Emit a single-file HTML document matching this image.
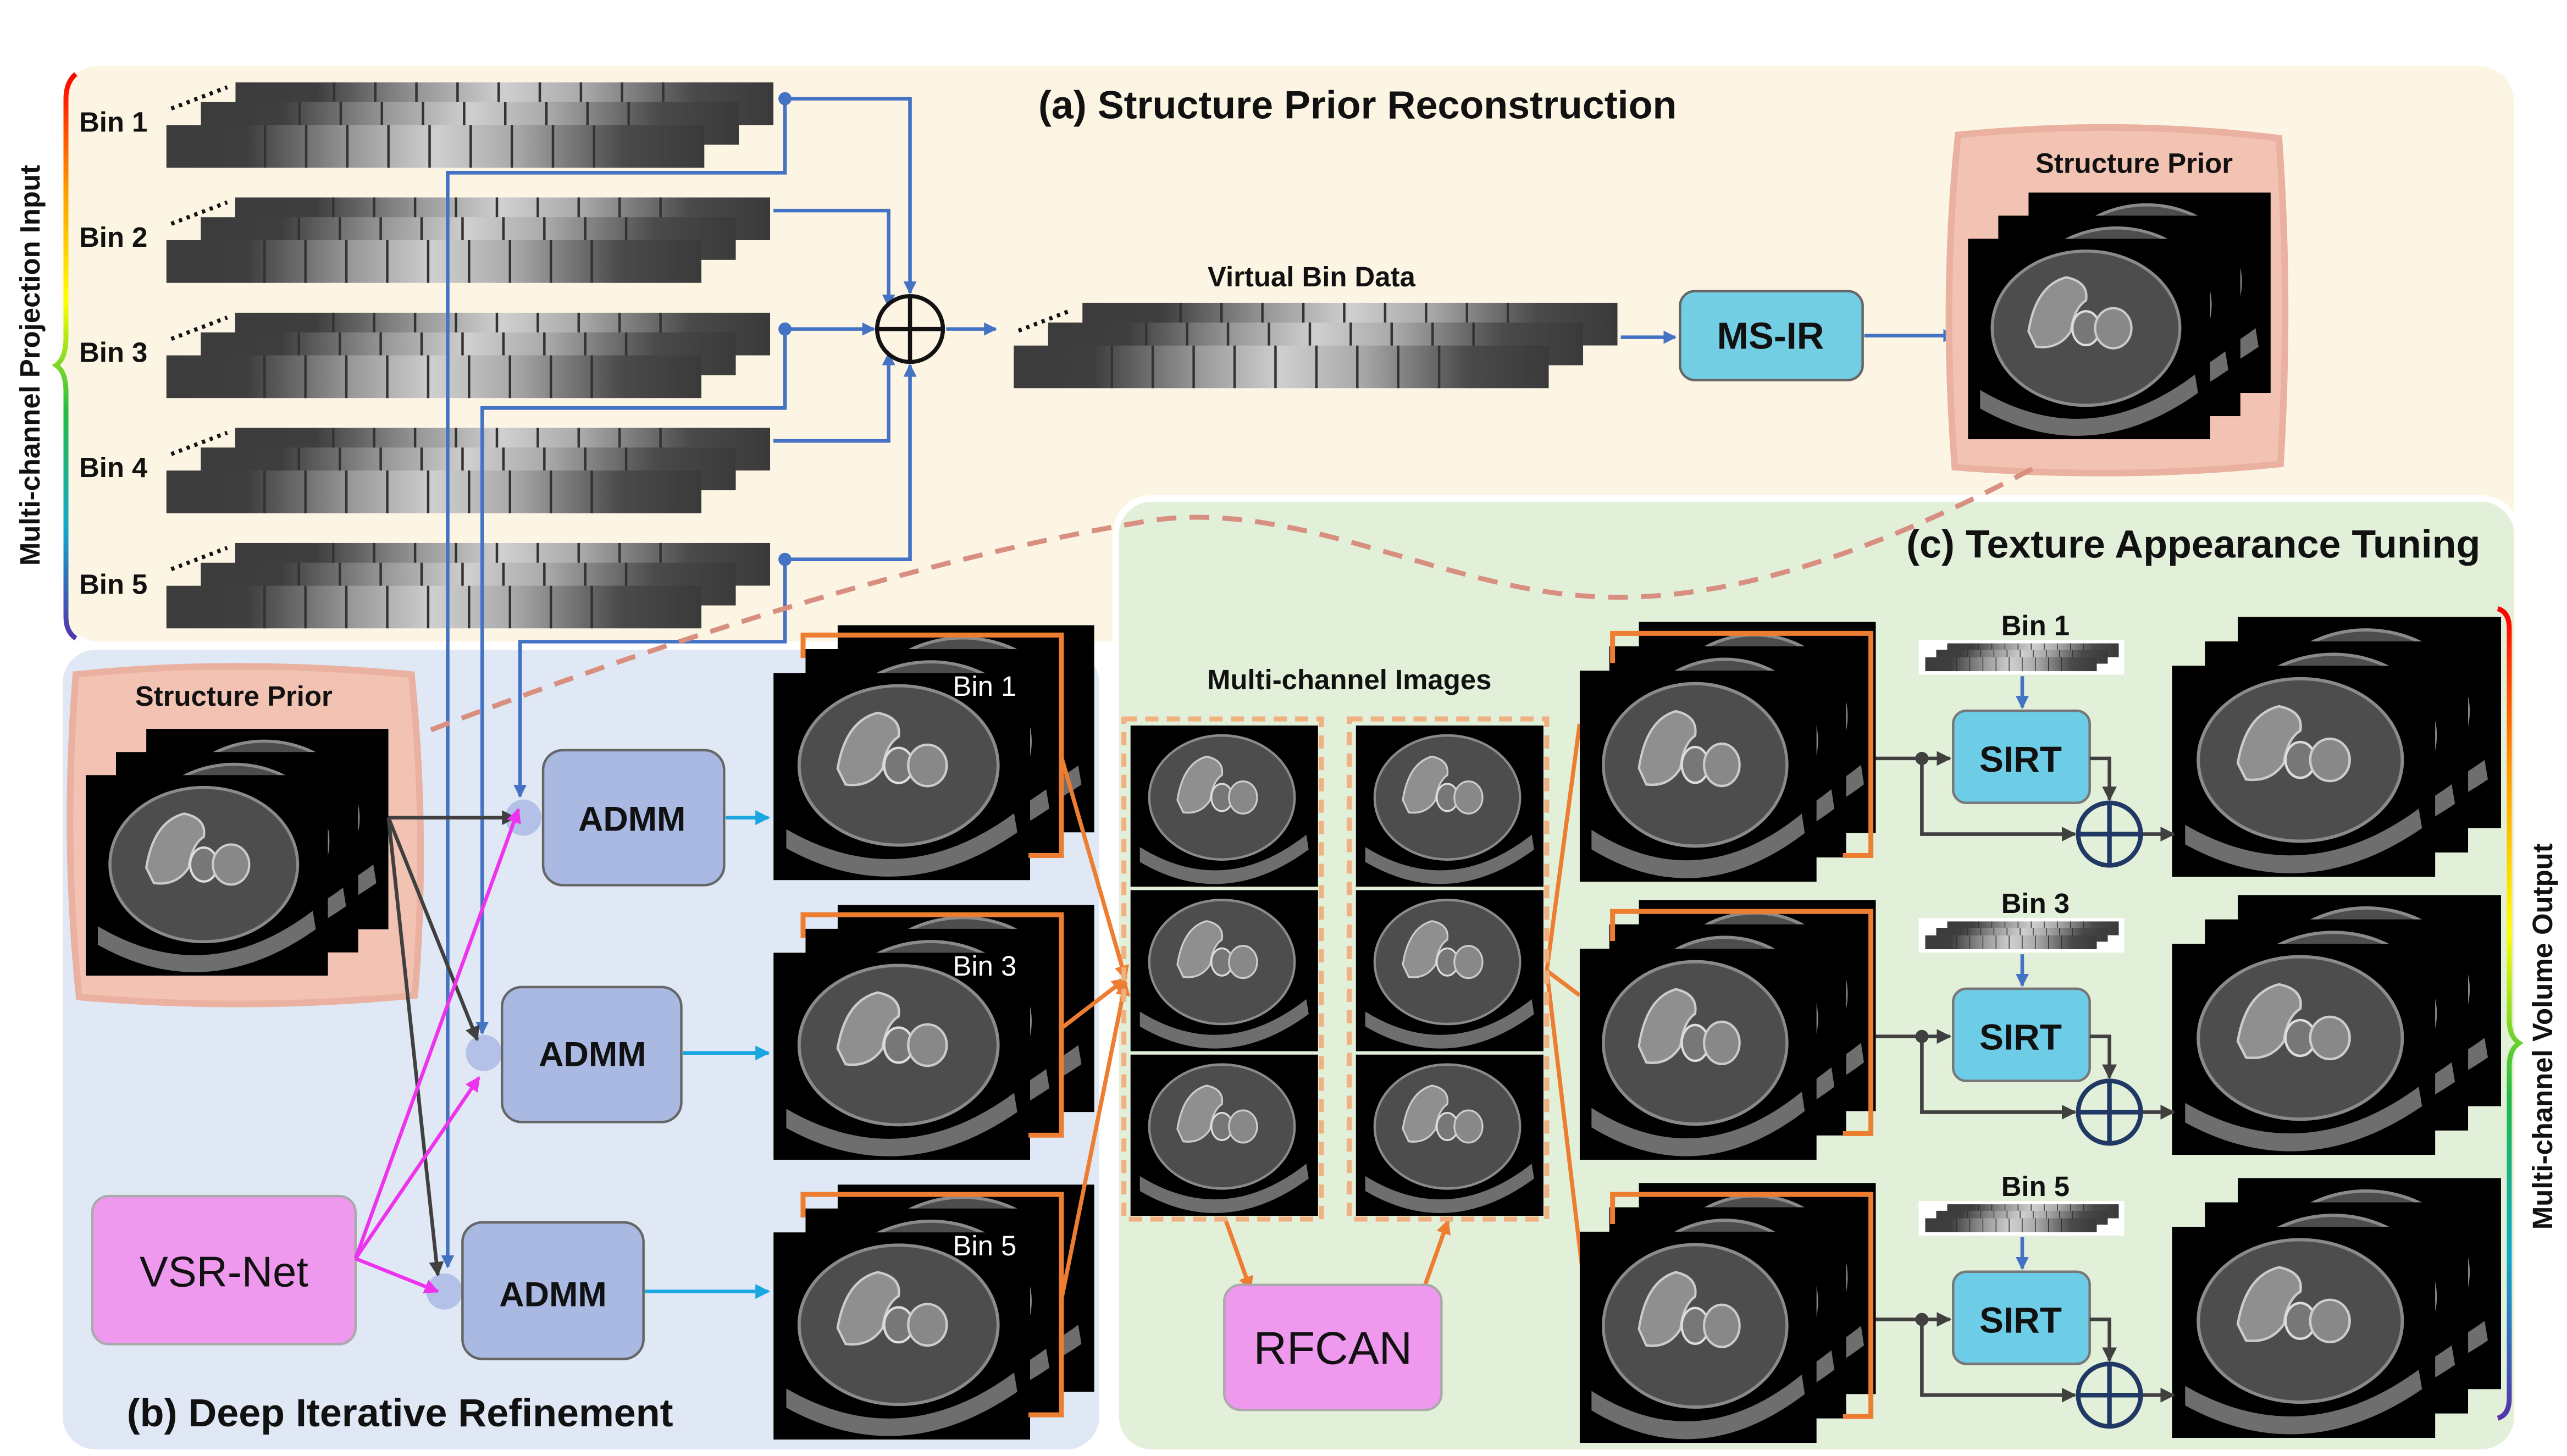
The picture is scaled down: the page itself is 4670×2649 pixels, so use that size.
<!DOCTYPE html>
<html><head><meta charset="utf-8"><style>
html,body{margin:0;padding:0;background:#fff;width:4670px;height:2649px;overflow:hidden}
svg{display:block}
text{font-family:"Liberation Sans",sans-serif;font-weight:bold;fill:#111}
</style></head><body>
<svg width="4670" height="2649" viewBox="0 0 1560 885" xmlns="http://www.w3.org/2000/svg">
<defs>
<linearGradient id="rb" x1="0" y1="0" x2="0" y2="1">
<stop offset="0" stop-color="#ff0000"/><stop offset="0.2" stop-color="#ff9900"/><stop offset="0.4" stop-color="#ffff00"/><stop offset="0.6" stop-color="#22bb44"/><stop offset="0.8" stop-color="#11aacc"/><stop offset="1" stop-color="#5533aa"/></linearGradient>
<linearGradient id="pg" x1="0" y1="0" x2="1" y2="0">
<stop offset="0" stop-color="#3c3c3c"/><stop offset="0.15" stop-color="#3e3e3e"/><stop offset="0.35" stop-color="#9a9a9a"/><stop offset="0.5" stop-color="#cfcfcf"/><stop offset="0.65" stop-color="#a8a8a8"/><stop offset="0.85" stop-color="#4a4a4a"/><stop offset="1" stop-color="#3a3a3a"/></linearGradient>
<symbol id="strip" viewBox="0 0 327 26" preserveAspectRatio="none">
<rect width="327" height="26" fill="url(#pg)"/>
<g stroke="#333" stroke-width="1.5"><line x1="60" y1="0" x2="60" y2="26"/><line x1="85" y1="0" x2="85" y2="26"/><line x1="110" y1="0" x2="110" y2="26"/><line x1="135" y1="0" x2="135" y2="26"/><line x1="160" y1="0" x2="160" y2="26"/><line x1="185" y1="0" x2="185" y2="26"/><line x1="210" y1="0" x2="210" y2="26"/><line x1="235" y1="0" x2="235" y2="26"/><line x1="260" y1="0" x2="260" y2="26"/></g>
</symbol>
<symbol id="proj" viewBox="0 0 370 52" preserveAspectRatio="none">
<use href="#strip" x="42" y="0" width="327" height="26"/>
<use href="#strip" x="21" y="12" width="327" height="26"/>
<use href="#strip" x="0" y="26" width="327" height="26"/>
</symbol>
<symbol id="ct" viewBox="0 0 160 130" preserveAspectRatio="none">
<rect width="160" height="130" fill="#000"/>
<ellipse cx="78" cy="58" rx="62" ry="50" fill="#4d4d4d" stroke="#8a8a8a" stroke-width="2"/>
<path d="M40,60 Q45,30 65,25 Q80,28 78,40 Q70,45 68,60 Q60,72 45,70Z" fill="#8f8f8f" stroke="#ccc" stroke-width="1.5"/>
<ellipse cx="78" cy="58" rx="9" ry="11" fill="#777" stroke="#ddd" stroke-width="1.5"/>
<ellipse cx="96" cy="58" rx="12" ry="13" fill="#888" stroke="#ccc" stroke-width="1.5"/>
<path d="M8,98 Q80,140 150,88 L152,100 Q80,150 8,110Z" fill="#6e6e6e"/>
</symbol>
<symbol id="ctstack" viewBox="0 0 200 160" preserveAspectRatio="none">
<use href="#ct" x="40" y="0" width="160" height="130"/>
<use href="#ct" x="20" y="15" width="160" height="130"/>
<use href="#ct" x="0" y="30" width="160" height="130"/>
</symbol>
<marker id="ab" markerWidth="8" markerHeight="8" refX="7" refY="4" orient="auto" markerUnits="userSpaceOnUse"><path d="M0,0 L8,4 L0,8Z" fill="#4472c4"/></marker>
<marker id="ak" markerWidth="9" markerHeight="9" refX="8" refY="4.5" orient="auto" markerUnits="userSpaceOnUse"><path d="M0,0 L9,4.5 L0,9Z" fill="#404040"/></marker>
<marker id="am" markerWidth="9" markerHeight="9" refX="8" refY="4.5" orient="auto" markerUnits="userSpaceOnUse"><path d="M0,0 L9,4.5 L0,9Z" fill="#ee33ee"/></marker>
<marker id="ac" markerWidth="9" markerHeight="9" refX="8" refY="4.5" orient="auto" markerUnits="userSpaceOnUse"><path d="M0,0 L9,4.5 L0,9Z" fill="#1aa7e0"/></marker>
<marker id="ao" markerWidth="9" markerHeight="9" refX="8" refY="4.5" orient="auto" markerUnits="userSpaceOnUse"><path d="M0,0 L9,4.5 L0,9Z" fill="#ed7d31"/></marker>
<marker id="ap" markerWidth="12" markerHeight="12" refX="10" refY="6" orient="auto" markerUnits="userSpaceOnUse"><path d="M0,0 L12,6 L0,12Z" fill="#d98f80"/></marker>
</defs>

<!-- panels -->
<rect x="38" y="40" width="1490" height="350" rx="22" fill="#fdf5e4"/>
<rect x="36" y="393" width="634" height="490" rx="22" fill="#dfe8f4" stroke="#fff" stroke-width="4"/>
<rect x="678" y="303" width="852" height="580" rx="22" fill="#e2efd9" stroke="#fff" stroke-width="4"/>

<!-- left brace -->
<path d="M46,45 Q40,50 40,60 L40,205 Q40,218 34,222 Q40,226 40,238 L40,375 Q40,384 46,388" fill="none" stroke="url(#rb)" stroke-width="3"/>
<text transform="translate(24,222) rotate(-90)" text-anchor="middle" font-size="17">Multi-channel Projection Input</text>

<!-- bins -->
<g font-size="17">
<text x="48" y="80">Bin 1</text><text x="48" y="150">Bin 2</text><text x="48" y="220">Bin 3</text><text x="48" y="290">Bin 4</text><text x="48" y="361">Bin 5</text>
</g>
<g>
<use href="#proj" x="101" y="50" width="370" height="52"/>
<use href="#proj" x="101" y="120" width="368" height="52"/>
<use href="#proj" x="101" y="190" width="368" height="52"/>
<use href="#proj" x="101" y="260" width="368" height="52"/>
<use href="#proj" x="101" y="330" width="368" height="52"/>
</g>
<g stroke="#111" stroke-width="2.5" stroke-dasharray="2,3">
<line x1="104" y1="66" x2="138" y2="53"/><line x1="104" y1="136" x2="138" y2="123"/><line x1="104" y1="206" x2="138" y2="193"/><line x1="104" y1="276" x2="138" y2="263"/><line x1="104" y1="346" x2="138" y2="333"/>
</g>

<!-- blue connectors -->
<g fill="none" stroke="#4472c4" stroke-width="2.2">
<path d="M477,60 H553 V178" marker-end="url(#ab)"/>
<path d="M470,128 H540 V186" marker-end="url(#ab)"/>
<path d="M477,200 H531" marker-end="url(#ab)"/>
<path d="M470,268 H540 V215" marker-end="url(#ab)"/>
<path d="M477,340 H553 V222" marker-end="url(#ab)"/>
<path d="M575,200 H605" marker-end="url(#ab)"/>
<path d="M477,60 V105 H272 V770" marker-end="url(#ab)"/>
<path d="M477,200 V248 H293 V628" marker-end="url(#ab)"/>
<path d="M477,340 V390 H316 V484" marker-end="url(#ab)"/>
<path d="M985,205 H1018" marker-end="url(#ab)"/>
<path d="M1133,204 H1188" marker-end="url(#ab)"/>
</g>
<g fill="#4472c4"><circle cx="477" cy="60" r="4"/><circle cx="477" cy="200" r="4"/><circle cx="477" cy="340" r="4"/></g>
<circle cx="553" cy="200" r="20" fill="none" stroke="#111" stroke-width="2.5"/>
<path d="M533,200 H573 M553,180 V220" stroke="#111" stroke-width="2.5"/>

<text x="825" y="72" text-anchor="middle" font-size="24">(a) Structure Prior Reconstruction</text>
<text x="797" y="174" text-anchor="middle" font-size="17">Virtual Bin Data</text>
<use href="#proj" x="616" y="184" width="368" height="52"/>
<line x1="619" y1="201" x2="650" y2="189" stroke="#111" stroke-width="2.5" stroke-dasharray="2,3"/>
<rect x="1021" y="177" width="111" height="54" rx="9" fill="#73cde3" stroke="#666" stroke-width="1.5"/>
<text x="1076" y="212" text-anchor="middle" font-size="23">MS-IR</text>

<!-- top structure prior -->
<path d="M1190,82 Q1290,72 1385,84 Q1392,180 1386,282 Q1290,292 1188,284 Q1180,180 1190,82Z" fill="#f2c2b3" stroke="#eab0a0" stroke-width="4"/>
<text x="1297" y="105" text-anchor="middle" font-size="17">Structure Prior</text>
<use href="#ctstack" x="1196" y="117" width="184" height="150"/>

<!-- dashed curve -->
<path d="M1235,285 C1150,330 1050,370 960,362 C870,355 780,300 690,318 C560,340 400,390 240,452" fill="none" stroke="#d98f80" stroke-width="3" stroke-dasharray="12,8" marker-end="url(#ap)"/>

<!-- panel b -->
<path d="M46,410 Q140,400 250,410 Q260,510 252,605 Q150,615 48,606 Q38,510 46,410Z" fill="#f2c2b3" stroke="#eab0a0" stroke-width="4"/>
<text x="142" y="429" text-anchor="middle" font-size="17">Structure Prior</text>
<use href="#ctstack" x="52" y="443" width="184" height="150"/>

<g fill="#a9b9e2" stroke="#666" stroke-width="1.5">
<circle cx="318" cy="497" r="11" fill="#b3c1e8" stroke="none"/><circle cx="294" cy="640" r="11" fill="#b3c1e8" stroke="none"/><circle cx="270" cy="785" r="11" fill="#b3c1e8" stroke="none"/>
<rect x="330" y="456" width="110" height="82" rx="12"/>
<rect x="305" y="600" width="109" height="82" rx="12"/>
<rect x="281" y="743" width="110" height="83" rx="12"/>
</g>
<g font-size="21" text-anchor="middle"><text x="384" y="505">ADMM</text><text x="360" y="648">ADMM</text><text x="336" y="794">ADMM</text></g>
<rect x="56" y="727" width="160" height="90" rx="10" fill="#ee99ee" stroke="#aaa" stroke-width="1.5"/>
<text x="136" y="782" text-anchor="middle" font-size="26" font-weight="normal" style="font-weight:normal">VSR-Net</text>

<g fill="none" stroke="#404040" stroke-width="2.2">
<path d="M236,497 H313" marker-end="url(#ak)"/>
<path d="M236,497 L290,632" marker-end="url(#ak)"/>
<path d="M236,497 L266,775" marker-end="url(#ak)"/>
</g>
<g fill="none" stroke="#ee33ee" stroke-width="2.2">
<path d="M216,765 L315,492" marker-end="url(#am)"/>
<path d="M216,765 L291,655" marker-end="url(#am)"/>
<path d="M216,765 L266,785" marker-end="url(#am)"/>
</g>
<g fill="none" stroke="#1aa7e0" stroke-width="2.2">
<path d="M441,497 H467" marker-end="url(#ac)"/>
<path d="M415,640 H467" marker-end="url(#ac)"/>
<path d="M392,785 H467" marker-end="url(#ac)"/>
</g>

<!-- b stacks -->
<g>
<use href="#ctstack" x="470" y="380" width="195" height="155"/>
<use href="#ctstack" x="470" y="550" width="195" height="155"/>
<use href="#ctstack" x="470" y="720" width="195" height="155"/>
</g>
<g fill="none" stroke="#ed7d31" stroke-width="3">
<path d="M488,400 V386 H645 V520 H625"/>
<path d="M488,570 V556 H645 V690 H625"/>
<path d="M488,740 V726 H645 V860 H625"/>
</g>
<g fill="#fff" font-size="17" style="font-weight:normal"><text x="579" y="423" style="fill:#fff;font-weight:normal">Bin 1</text><text x="579" y="593" style="fill:#fff;font-weight:normal">Bin 3</text><text x="579" y="763" style="fill:#fff;font-weight:normal">Bin 5</text></g>
<text x="243" y="867" text-anchor="middle" font-size="24">(b) Deep Iterative Refinement</text>

<!-- panel c -->
<text x="1333" y="339" text-anchor="middle" font-size="24">(c) Texture Appearance Tuning</text>
<text x="820" y="419" text-anchor="middle" font-size="17">Multi-channel Images</text>
<g fill="none" stroke="#ed7d31" stroke-width="2.5">
<path d="M645,460 L684,595" marker-end="url(#ao)"/>
<path d="M645,625 L684,595" marker-end="url(#ao)"/>
<path d="M645,790 L684,597" marker-end="url(#ao)"/>
<path d="M940,590 L960,440"/><path d="M940,590 L960,605"/><path d="M940,590 L962,775"/>
<path d="M745,742 L760,784" marker-end="url(#ao)"/>
<path d="M865,784 L880,742" marker-end="url(#ao)"/>
</g>
<rect x="683" y="437" width="120" height="304" fill="none" stroke="#f0b080" stroke-width="3" stroke-dasharray="8,5"/>
<rect x="820" y="437" width="120" height="304" fill="none" stroke="#f0b080" stroke-width="3" stroke-dasharray="8,5"/>
<g>
<use href="#ct" x="687" y="441" width="114" height="98"/><use href="#ct" x="687" y="541" width="114" height="98"/><use href="#ct" x="687" y="641" width="114" height="98"/>
<use href="#ct" x="824" y="441" width="114" height="98"/><use href="#ct" x="824" y="541" width="114" height="98"/><use href="#ct" x="824" y="641" width="114" height="98"/>
</g>
<rect x="744" y="781" width="132" height="76" rx="10" fill="#ee99ee" stroke="#aaa" stroke-width="1.5"/>
<text x="810" y="829" text-anchor="middle" font-size="28" style="font-weight:normal">RFCAN</text>

<!-- c rows -->
<g id="row1">
<use href="#ctstack" x="960" y="378" width="180" height="158"/>
<path d="M980,403 V385 H1137 V520 H1120" fill="none" stroke="#ed7d31" stroke-width="3"/>
<use href="#ctstack" x="1320" y="375" width="200" height="158"/>
<text x="1237" y="386" text-anchor="middle" font-size="17">Bin 1</text>
<rect x="1166" y="389" width="125" height="21" fill="#fff"/>
<use href="#proj" x="1170" y="391" width="118" height="17"/>
<path d="M1229,411 V430" stroke="#4472c4" stroke-width="2.2" marker-end="url(#ab)"/>
<rect x="1187" y="432" width="83" height="56" rx="8" fill="#6ecde6" stroke="#777" stroke-width="1.5"/>
<text x="1228" y="469" text-anchor="middle" font-size="22">SIRT</text>
<g fill="none" stroke="#404040" stroke-width="2.2">
<path d="M1140,461 H1185" marker-end="url(#ak)"/>
<path d="M1168,461 V507 H1261" marker-end="url(#ak)"/>
<path d="M1270,461 H1282 V486" marker-end="url(#ak)"/>
<path d="M1301,507 H1321" marker-end="url(#ak)"/>
</g>
<circle cx="1168" cy="461" r="4" fill="#404040"/>
<circle cx="1282" cy="507" r="19" fill="none" stroke="#1f3864" stroke-width="2.8"/>
<path d="M1263,507 H1301 M1282,488 V526" stroke="#1f3864" stroke-width="2.8"/>
</g>
<use href="#row1" y="169"/>
<use href="#row1" y="341"/>
<rect x="1210" y="538" width="60" height="20" fill="#e2efd9"/>
<text x="1237" y="555" text-anchor="middle" font-size="17">Bin 3</text>
<rect x="1210" y="710" width="60" height="20" fill="#e2efd9"/>
<text x="1237" y="727" text-anchor="middle" font-size="17">Bin 5</text>

<!-- right brace -->
<path d="M1518,370 Q1525,372 1525,382 L1525,620 Q1525,630 1531,634 Q1525,638 1525,648 L1525,850 Q1525,860 1518,862" fill="none" stroke="url(#rb)" stroke-width="3"/>
<text transform="translate(1551,630) rotate(-90)" text-anchor="middle" font-size="17">Multi-channel Volume Output</text>
</svg>
</body></html>
